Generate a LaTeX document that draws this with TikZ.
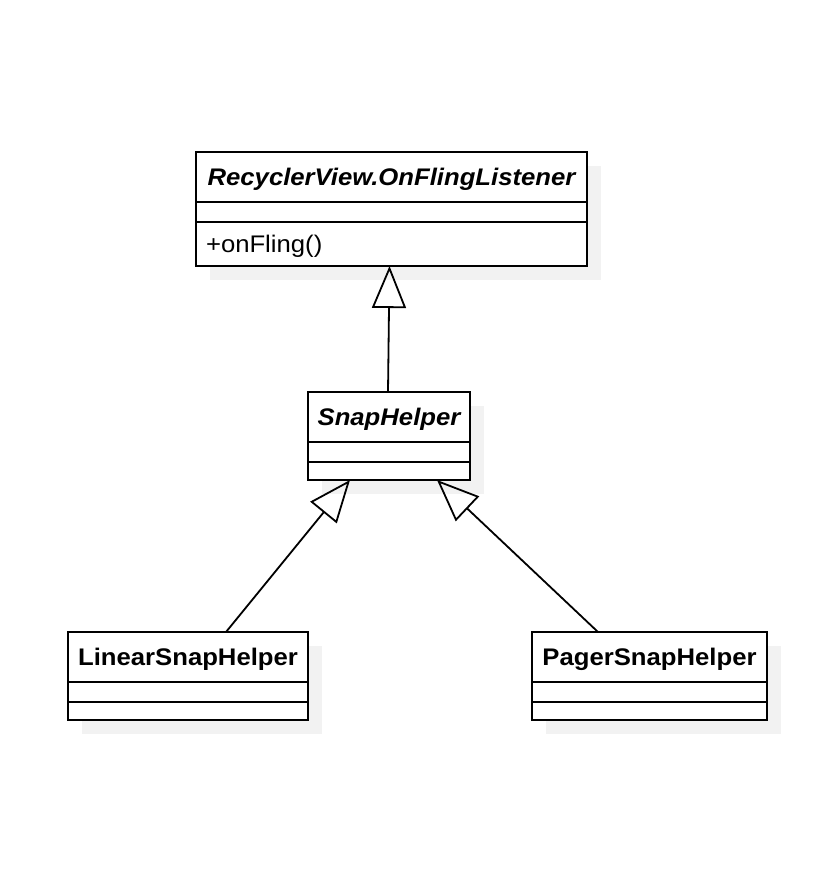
\documentclass[tikz,border=0pt]{standalone}
\usepackage{fontspec}
\setmainfont{Liberation Sans}[FakeStretch=1.07]
\usetikzlibrary{positioning,arrows.meta,backgrounds}
\tikzset{
    classpart/.style={draw, line width=2pt, fill=white, inner sep=0pt, outer sep=0pt,
        font=\fontsize{24}{28}\selectfont},
    classname/.style={classpart, minimum height=50pt, text height=17pt, text depth=0pt,
        font=\fontsize{24}{28}\selectfont\bfseries},
    abstractname/.style={classname, font=\fontsize{24}{28}\selectfont\bfseries\itshape},
    opspart/.style={classpart, text height=17pt, text depth=0pt, inner xsep=10pt, align=left},
    inherits/.style={line width=1.8pt, -{Triangle[open, length=42pt, width=34pt]}},
    classshadow/.style={fill=black!5}
}
\begin{document}
\begin{tikzpicture}[x=1pt,y=-1pt]
    \useasboundingbox (0,0) rectangle (838,880);
    % RecyclerView.OnFlingListener
    \node[abstractname, minimum width=391pt] (listener) at (391.5,177) {RecyclerView.OnFlingListener};
    \node[classpart, minimum width=391pt, minimum height=20pt, below=0pt of listener] (listenerattr) {};
    \node[opspart, minimum width=391pt, minimum height=44pt, text width=371pt,
        below=0pt of listenerattr] (listenerops) {+onFling()};
    % SnapHelper
    \node[abstractname, minimum width=162pt] (snap) at (389,417) {SnapHelper};
    \node[classpart, minimum width=162pt, minimum height=20pt, below=0pt of snap] (snapattr) {};
    \node[classpart, minimum width=162pt, minimum height=18pt, below=0pt of snapattr] (snapops) {};
    % LinearSnapHelper
    \node[classname, minimum width=240pt] (linear) at (188,657) {LinearSnapHelper};
    \node[classpart, minimum width=240pt, minimum height=20pt, below=0pt of linear] (linearattr) {};
    \node[classpart, minimum width=240pt, minimum height=18pt, below=0pt of linearattr] (linearops) {};
    % PagerSnapHelper
    \node[classname, minimum width=235pt] (pager) at (649.5,657) {PagerSnapHelper};
    \node[classpart, minimum width=235pt, minimum height=20pt, below=0pt of pager] (pagerattr) {};
    \node[classpart, minimum width=235pt, minimum height=18pt, below=0pt of pagerattr] (pagerops) {};
    % generalizations
    \draw[inherits] ([xshift=-1pt]snap.north) -- ([xshift=-2pt]listenerops.south);
    \draw[inherits] ([xshift=38pt]linear.north) -- ([xshift=-39pt]snapops.south);
    \draw[inherits] ([xshift=-51.5pt]pager.north) -- ([xshift=48pt]snapops.south);
    \begin{scope}[on background layer]
        \fill[white] (0,0) rectangle (838,880);
        \fill[classshadow] ([shift={(14,14)}]listener.north west) rectangle ([shift={(14,14)}]listenerops.south east);
        \fill[classshadow] ([shift={(14,14)}]snap.north west) rectangle ([shift={(14,14)}]snapops.south east);
        \fill[classshadow] ([shift={(14,14)}]linear.north west) rectangle ([shift={(14,14)}]linearops.south east);
        \fill[classshadow] ([shift={(14,14)}]pager.north west) rectangle ([shift={(14,14)}]pagerops.south east);
    \end{scope}
\end{tikzpicture}
\end{document}
